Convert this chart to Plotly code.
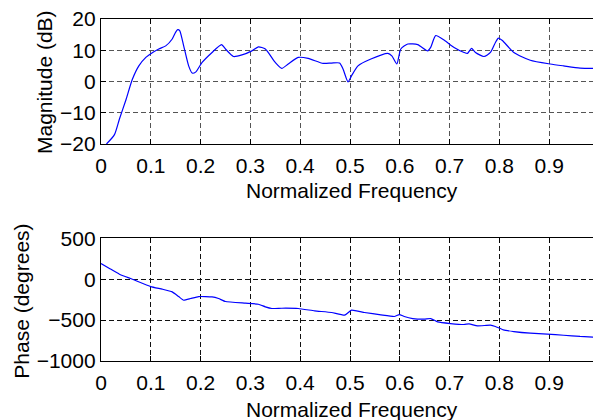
import plotly.graph_objects as go
from plotly.subplots import make_subplots

# Magnitude response
freq_mag = [0.011, 0.027, 0.037, 0.05, 0.063, 0.076, 0.09, 0.1, 0.116, 0.13, 0.143, 0.15, 0.154, 0.158,
            0.166, 0.176, 0.183, 0.19, 0.203, 0.223, 0.242, 0.25, 0.266, 0.283, 0.303, 0.316, 0.33,
            0.35, 0.363, 0.376, 0.396, 0.416, 0.446, 0.463, 0.479, 0.486, 0.496, 0.503, 0.516, 0.542,
            0.576, 0.584, 0.594, 0.602, 0.616, 0.636, 0.656, 0.662, 0.672, 0.69, 0.709, 0.729, 0.736,
            0.744, 0.752, 0.769, 0.782, 0.792, 0.798, 0.806, 0.829, 0.862, 0.902, 0.929, 0.962, 1.0]
mag_db = [-20, -17, -12, -5.9, 0.7, 5, 7.7, 8.9, 10.4, 11.4, 13.6, 15.8, 16.6, 16.3,
          11.4, 5, 2.7, 3, 6.1, 9.3, 11.8, 10.4, 8.0, 8.5, 9.8, 11.1, 10.4,
          6.1, 4.2, 5.6, 7.7, 7.4, 5.8, 5.9, 5.9, 4, -0.1, 1.8, 5, 7.2,
          9.0, 8.2, 5.6, 10.4, 12, 11.8, 9.8, 10.9, 14.7, 13.1, 10.9, 9.3, 9.0,
          10.6, 9.3, 8, 9.3, 12.5, 13.9, 13.1, 9.3, 6.8, 5.6, 5, 4.3, 4.2]

# Phase response
freq_phase = [0.0, 0.017, 0.037, 0.063, 0.1, 0.123, 0.143, 0.156, 0.166, 0.18, 0.196, 0.223, 0.236,
              0.25, 0.29, 0.316, 0.33, 0.343, 0.363, 0.396, 0.429, 0.463, 0.489, 0.503, 0.529,
              0.562, 0.589, 0.599, 0.609, 0.626, 0.649, 0.662, 0.676, 0.702, 0.729, 0.739, 0.756,
              0.782, 0.792, 0.808, 0.829, 0.862, 0.896, 0.929, 0.962, 1.0]
phase_deg = [192, 131, 61, 0, -90, -122, -155, -212, -257, -236, -212, -216, -236,
             -273, -293, -306, -338, -358, -355, -358, -387, -407, -440, -379, -407,
             -436, -456, -432, -456, -481, -489, -481, -522, -542, -554, -546, -571,
             -562, -578, -620, -640, -660, -672, -685, -700, -712]

mag_ticks = [-20, -10, 0, 10, 20]
phase_ticks = [-1000, -500, 0, 500]
x_ticks = [0, 0.1, 0.2, 0.3, 0.4, 0.5, 0.6, 0.7, 0.8, 0.9, 1]
x_ticklabels = ["0", "0.1", "0.2", "0.3", "0.4", "0.5", "0.6", "0.7", "0.8", "0.9", "1"]

FONT = "Liberation Sans, Arial, sans-serif"
FS = 21

fig = make_subplots(rows=2, cols=1)
fig.add_trace(go.Scatter(x=freq_mag, y=mag_db, mode="lines",
                         line=dict(color="#0000ff", width=1.2, shape="spline", smoothing=0.6),
                         showlegend=False), row=1, col=1)
fig.add_trace(go.Scatter(x=freq_phase, y=phase_deg, mode="lines",
                         line=dict(color="#0000ff", width=1.2, shape="spline", smoothing=0.4),
                         showlegend=False), row=2, col=1)

common_x = dict(range=[0, 1.004], tickvals=x_ticks, ticktext=x_ticklabels, ticks="inside", ticklen=5,
                tickcolor="black", showline=True, linecolor="black", linewidth=1.3, mirror="ticks",
                showgrid=True, griddash="5px,3px", gridwidth=1, zeroline=False, automargin=False,
                ticklabeloverflow="allow", ticklabelstandoff=3,
                tickfont=dict(family=FONT, size=FS, color="black"))
common_y = dict(ticks="inside", ticklen=5, tickcolor="black", showline=True, linecolor="black",
                linewidth=1.3, mirror="ticks", showgrid=True, griddash="5px,3px", gridwidth=1,
                zeroline=False, automargin=False, ticklabeloverflow="allow",
                tickfont=dict(family=FONT, size=FS, color="black"))

fig.update_xaxes(**common_x, domain=[0, 1])
fig.update_xaxes(gridcolor="#555555", row=1, col=1)
fig.update_xaxes(gridcolor="#111111", row=2, col=1)
fig.update_yaxes(**common_y)
fig.update_yaxes(range=[-20, 20], tickvals=mag_ticks, gridcolor="#555555", domain=[0.6345, 1.0], row=1, col=1)
fig.update_yaxes(range=[-1000, 500], tickvals=phase_ticks, gridcolor="#111111", domain=[0.0, 0.3588], row=2, col=1)

ann_font = dict(family=FONT, size=FS, color="black")
fig.add_annotation(text="Normalized Frequency", xref="paper", yref="paper", x=0.502, y=0.5,
                   xanchor="center", yanchor="middle", showarrow=False, font=ann_font)
fig.add_annotation(text="Normalized Frequency", xref="paper", yref="paper", x=0.502, y=-0.1404,
                   xanchor="center", yanchor="middle", showarrow=False, font=ann_font)
fig.add_annotation(text="Magnitude (dB)", xref="paper", yref="paper", x=-0.112, y=0.8158,
                   xanchor="center", yanchor="middle", textangle=-90, showarrow=False, font=ann_font)
fig.add_annotation(text="Phase (degrees)", xref="paper", yref="paper", x=-0.158, y=0.1734,
                   xanchor="center", yanchor="middle", textangle=-90, showarrow=False, font=ann_font)

# page body has an 8px default margin, so the figure is 8px smaller on each used side
fig.update_layout(width=593, height=412, margin=dict(l=93, r=0, t=11, b=59),
                  paper_bgcolor="white", plot_bgcolor="white",
                  font=dict(family=FONT, size=FS, color="black"))

fig.write_html("out.html")
